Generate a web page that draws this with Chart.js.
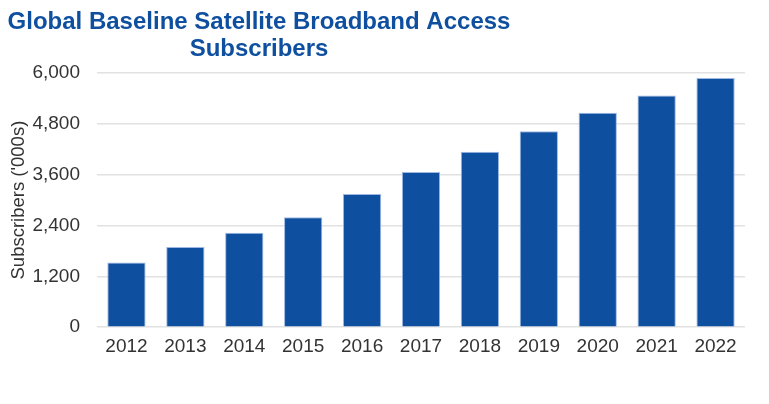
<!DOCTYPE html>
<html>
<head>
<meta charset="utf-8">
<script src="https://cdn.jsdelivr.net/npm/chart.js@4"></script>
<style>
  html, body { margin: 0; padding: 0; background: #fff; }
  #wrap { width: 769px; height: 404px; position: relative; }
</style>
</head>
<body>
<div id="wrap"><canvas id="bar-chart"></canvas></div>
<script>
const years = ["2012", "2013", "2014", "2015", "2016", "2017", "2018", "2019", "2020", "2021", "2022"];
const subscribers = [1525, 1895, 2227, 2597, 3142, 3663, 4144, 4627, 5060, 5470, 5882];
const titleLines = ["Global Baseline Satellite Broadband Access", "Subscribers"];
const yTicks = [0, 1200, 2400, 3600, 4800, 6000];

// title sits left of the page centre in the original, so draw it ourselves
const offsetTitle = {
  id: "offsetTitle",
  afterDraw(chart) {
    const ctx = chart.ctx;
    ctx.save();
    ctx.fillStyle = "#0F4F9F";
    ctx.font = "bold 24px 'Liberation Sans', Arial, sans-serif";
    ctx.textAlign = "center";
    ctx.textBaseline = "alphabetic";
    ctx.fillText(titleLines[0], 259, 29);
    ctx.fillText(titleLines[1], 259, 56);
    ctx.restore();
  }
};

Chart.defaults.font.family = "'Liberation Sans', Arial, sans-serif";
Chart.defaults.color = "#333333";

new Chart(document.getElementById("bar-chart"), {
  type: "bar",
  data: {
    labels: years,
    datasets: [{
      data: subscribers,
      backgroundColor: "#0F4F9F",
      borderColor: "#9DB9E3",
      borderWidth: 1,
      barPercentage: 0.65,
      categoryPercentage: 1.0
    }]
  },
  options: {
    responsive: true,
    maintainAspectRatio: false,
    animation: false,
    layout: { padding: { top: 73, right: 24, bottom: 38, left: 0 } },
    plugins: {
      legend: { display: false },
      title: { display: false },
      tooltip: { enabled: false }
    },
    scales: {
      x: {
        grid: { display: false, drawTicks: false },
        border: { display: false },
        ticks: { font: { size: 19 }, padding: 8, color: "#333333" }
      },
      y: {
        min: 0,
        max: 6000,
        afterBuildTicks(axis) { axis.ticks = yTicks.map(v => ({ value: v })); },
        afterFit(axis) { axis.width = 97; },
        grid: { color: "#E2E2E2", lineWidth: 1.5, drawTicks: false },
        border: { display: false },
        title: {
          display: true,
          text: "Subscribers ('000s)",
          font: { size: 18.5 },
          color: "#333333",
          padding: { top: 8, bottom: 0 }
        },
        ticks: {
          font: { size: 19 },
          padding: 17,
          color: "#333333",
          callback: v => v.toLocaleString("en-US")
        }
      }
    }
  },
  plugins: [offsetTitle]
});
</script>
</body>
</html>
